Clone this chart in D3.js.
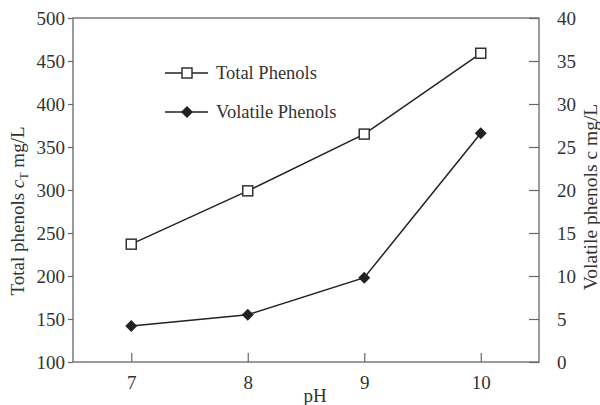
<!DOCTYPE html>
<html><head><meta charset="utf-8">
<script src="https://cdn.jsdelivr.net/npm/d3@7/dist/d3.min.js"></script>
<style>body{margin:0;background:#fff}svg{display:block}text{font-family:"Liberation Serif","Times New Roman",serif;fill:#333}</style>
</head><body>
<svg id="c" width="600" height="405"></svg>
<script>
const pH = [7, 8, 9, 10];
const totalPhenols = [237, 299, 365, 459];
const volatilePhenols = [4.2, 5.5, 9.8, 26.6];
const xTicks = [7, 8, 9, 10];
const leftTicks = [100, 150, 200, 250, 300, 350, 400, 450, 500];
const rightTicks = [0, 5, 10, 15, 20, 25, 30, 35, 40];

const svg = d3.select("#c");
const L = 73, R = 539, T = 18, B = 362;
const x = d3.scaleLinear().domain([6.5, 10.5]).range([L, R]);
const yL = d3.scaleLinear().domain([100, 500]).range([B, T]);
const yR = d3.scaleLinear().domain([0, 40]).range([B, T]);
const axisCol = "#666", fs = "19px";

svg.append("rect").attr("x", L).attr("y", T).attr("width", R - L).attr("height", B - T)
  .attr("fill", "none").attr("stroke", axisCol).attr("stroke-width", 1.3);

const gL = svg.append("g").attr("transform", `translate(${L},0)`)
  .call(d3.axisLeft(yL).tickValues(leftTicks).tickFormat(d3.format("d")).tickSize(5).tickPadding(3));
const gR = svg.append("g").attr("transform", `translate(${R},0)`)
  .call(d3.axisRight(yR).tickValues(rightTicks).tickFormat(d3.format("d")).tickSize(-10).tickPadding(18));
const gB = svg.append("g").attr("transform", `translate(0,${B})`)
  .call(d3.axisBottom(x).tickValues(xTicks).tickFormat(d3.format("d")).tickSize(-9).tickPadding(14));
[gL, gR, gB].forEach(g => {
  g.select(".domain").remove();
  g.selectAll("line").attr("stroke", axisCol).attr("stroke-width", 1.2);
  g.selectAll("text").style("font-size", fs).attr("fill", "#333")
    .style("font-family", '"Liberation Serif", serif');
});

const lineT = d3.line().x((d, i) => x(pH[i])).y(d => yL(d));
const lineV = d3.line().x((d, i) => x(pH[i])).y(d => yR(d));
svg.append("path").attr("d", lineT(totalPhenols)).attr("fill", "none").attr("stroke", "#222").attr("stroke-width", 1.5);
svg.append("path").attr("d", lineV(volatilePhenols)).attr("fill", "none").attr("stroke", "#222").attr("stroke-width", 1.5);

const sq = 10;
svg.selectAll(".sq").data(totalPhenols).enter().append("rect")
  .attr("x", (d, i) => x(pH[i]) - sq / 2).attr("y", d => yL(d) - sq / 2)
  .attr("width", sq).attr("height", sq).attr("fill", "#fff").attr("stroke", "#333").attr("stroke-width", 1.5);
const dsym = d3.symbol().type(d3.symbolSquare).size(72);
svg.selectAll(".dm").data(volatilePhenols).enter().append("path")
  .attr("d", dsym).attr("transform", (d, i) => `translate(${x(pH[i])},${yR(d)}) rotate(45)`)
  .attr("fill", "#222");

const lg = svg.append("g");
lg.append("line").attr("x1", 165).attr("x2", 208).attr("y1", 73).attr("y2", 73).attr("stroke", "#222").attr("stroke-width", 1.5);
lg.append("rect").attr("x", 187 - sq / 2).attr("y", 73 - sq / 2).attr("width", sq).attr("height", sq)
  .attr("fill", "#fff").attr("stroke", "#333").attr("stroke-width", 1.5);
lg.append("text").attr("x", 216).attr("y", 79).style("font-size", "18.5px").text("Total Phenols");
lg.append("line").attr("x1", 165).attr("x2", 208).attr("y1", 112).attr("y2", 112).attr("stroke", "#222").attr("stroke-width", 1.5);
lg.append("path").attr("d", dsym).attr("transform", "translate(187,112) rotate(45)").attr("fill", "#222");
lg.append("text").attr("x", 216).attr("y", 118).style("font-size", "18.5px").text("Volatile Phenols");

svg.append("text").attr("x", 315).attr("y", 402).attr("text-anchor", "middle").style("font-size", fs).text("pH");
const lt = svg.append("text").attr("transform", "translate(24,211) rotate(-90)").attr("text-anchor", "middle").style("font-size", "19px");
lt.append("tspan").text("Total phenols ");
lt.append("tspan").style("font-style", "italic").text("c");
lt.append("tspan").attr("dy", 4).style("font-size", "12px").text("T");
lt.append("tspan").attr("dy", -4).text(" mg/L");
svg.append("text").attr("transform", "translate(597,197) rotate(-90)").attr("text-anchor", "middle").style("font-size", "19.5px")
  .text("Volatile phenols c mg/L");
</script>
</body></html>
